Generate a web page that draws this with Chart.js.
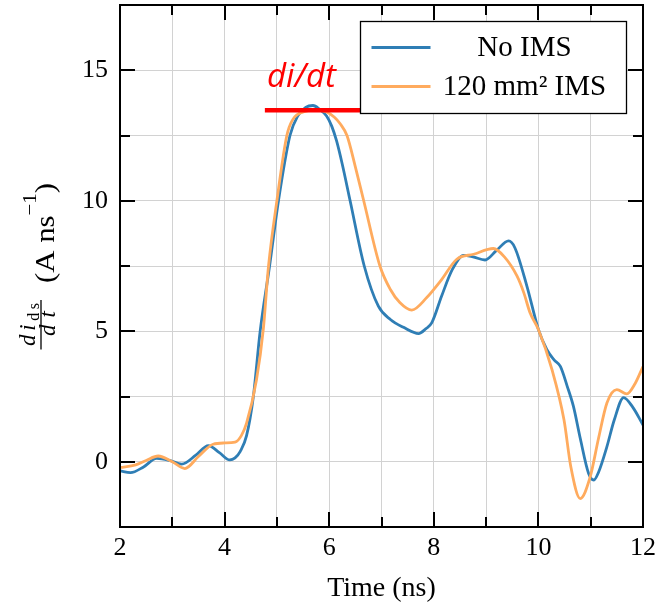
<!DOCTYPE html>
<html lang="es">
<head>
<meta charset="UTF-8">
<title>di/dt con y sin IMS</title>
<script src="https://cdn.jsdelivr.net/npm/chart.js@4.4.1/dist/chart.umd.min.js"></script>
<style>
  html, body { margin: 0; padding: 0; background: #fff; }
  canvas { display: block; }
</style>
</head>
<body>
<canvas id="grafica" width="661" height="607"></canvas>
<script>
// Curva sin IMS (tiempo en ns, di/dt en A/ns)
const tiempoSinIMS = [2.0, 2.2, 2.45, 2.7, 2.95, 3.18, 3.45, 3.69, 3.9, 4.1, 4.2, 4.3, 4.42, 4.55, 4.68, 4.86, 5.03, 5.25, 5.4, 5.55, 5.69, 5.82, 5.95, 6.05, 6.14, 6.25, 6.4, 6.67, 6.94, 7.17, 7.42, 7.71, 7.85, 7.96, 8.15, 8.35, 8.57, 8.75, 8.98, 9.2, 9.43, 9.55, 9.78, 10.0, 10.16, 10.3, 10.42, 10.55, 10.67, 10.8, 10.96, 11.06, 11.15, 11.31, 11.45, 11.63, 11.8, 12.0];
const valoresSinIMS = [-0.35, -0.42, -0.2, 0.13, 0.05, -0.09, 0.25, 0.62, 0.35, 0.07, 0.15, 0.4, 1.0, 2.5, 5.0, 7.5, 10.0, 12.5, 13.25, 13.58, 13.65, 13.5, 13.25, 12.85, 12.3, 11.4, 10.0, 7.5, 5.96, 5.45, 5.15, 4.91, 5.1, 5.32, 6.35, 7.35, 7.91, 7.85, 7.73, 8.1, 8.46, 8.2, 6.73, 5.07, 4.3, 3.9, 3.65, 2.9, 2.12, 0.9, -0.45, -0.7, -0.4, 0.58, 1.6, 2.46, 2.1, 1.41];

// Curva con IMS de 120 mm²
const tiempoConIMS = [2.0, 2.3, 2.5, 2.73, 3.0, 3.24, 3.5, 3.78, 4.0, 4.2, 4.32, 4.42, 4.61, 4.74, 4.84, 5.0, 5.19, 5.3, 5.54, 5.75, 5.95, 6.1, 6.21, 6.34, 6.5, 6.66, 6.97, 7.17, 7.35, 7.58, 7.87, 8.12, 8.44, 8.76, 9.14, 9.35, 9.59, 9.72, 9.84, 10.0, 10.26, 10.49, 10.62, 10.8, 10.99, 11.15, 11.31, 11.5, 11.69, 11.85, 12.0];
const valoresConIMS = [-0.22, -0.12, 0.05, 0.22, 0.0, -0.26, 0.2, 0.67, 0.72, 0.75, 1.0, 1.48, 3.14, 5.07, 7.5, 10.0, 12.5, 13.1, 13.42, 13.47, 13.4, 13.2, 12.95, 12.5, 11.3, 10.0, 7.5, 6.6, 6.1, 5.81, 6.3, 6.9, 7.76, 7.95, 8.17, 7.85, 7.12, 6.48, 5.71, 5.07, 3.53, 1.6, -0.19, -1.41, -0.58, 0.9, 2.25, 2.76, 2.6, 3.0, 3.65];

const etiquetasSeries = ['No IMS', '120 mm² IMS'];
const coloresSeries = ['#2f7eb5', '#ffab5e'];

// Marca roja del pico de di/dt
const didtX = [4.77, 6.59];
const didtY = [13.47, 13.47];
const textoDidt = 'di/dt';

// Etiquetas de los ejes
const ticksX = [2, 4, 6, 8, 10, 12];
const ticksY = [0, 5, 10, 15];

const FUENTE = '"Liberation Serif", "Times New Roman", serif';

function aPuntos(xs, ys) {
  return xs.map((x, i) => ({ x: x, y: ys[i] }));
}

// Sin relleno extra alrededor de las escalas, así el área queda fija
function sinRelleno(escala) {
  escala.paddingTop = 0;
  escala.paddingBottom = 0;
  escala.paddingLeft = 0;
  escala.paddingRight = 0;
}

// Cuadro negro con las marquitas hacia adentro en los cuatro lados
const marcoEjes = {
  id: 'marcoEjes',
  afterDraw(chart) {
    const { ctx, chartArea: a, scales: { x, y } } = chart;
    ctx.save();
    ctx.strokeStyle = '#000';
    ctx.lineWidth = 2;
    ctx.beginPath();
    for (let t = x.min + 1; t < x.max; t += 1) {
      const px = Math.round(x.getPixelForValue(t));
      const largo = ticksX.includes(t) ? 15 : 10;
      ctx.moveTo(px, a.bottom); ctx.lineTo(px, a.bottom - largo);
      ctx.moveTo(px, a.top); ctx.lineTo(px, a.top + largo);
    }
    for (let t = y.min + 2.5; t < y.max; t += 2.5) {
      const py = Math.round(y.getPixelForValue(t));
      const largo = ticksY.includes(t) ? 15 : 10;
      ctx.moveTo(a.left, py); ctx.lineTo(a.left + largo, py);
      ctx.moveTo(a.right, py); ctx.lineTo(a.right - largo, py);
    }
    ctx.stroke();
    ctx.strokeRect(a.left, a.top, a.right - a.left, a.bottom - a.top);
    ctx.restore();
  }
};

// Texto "di/dt" sobre la barra roja
const textoPico = {
  id: 'textoPico',
  afterDatasetsDraw(chart) {
    const { ctx, scales: { x, y } } = chart;
    const cx = (x.getPixelForValue(didtX[0]) + x.getPixelForValue(didtX[1])) / 2 - 11;
    const base = y.getPixelForValue(didtY[0]) - 23;
    ctx.save();
    ctx.fillStyle = '#ff0000';
    ctx.font = 'italic 33px "Open Sans", sans-serif';
    ctx.textAlign = 'center';
    ctx.textBaseline = 'alphabetic';
    ctx.fillText(textoDidt, cx, base);
    ctx.restore();
  }
};

// Leyenda con caja, texto centrado en su columna
const leyenda = {
  id: 'leyenda',
  afterDatasetsDraw(chart) {
    const { ctx, chartArea: a } = chart;
    const der = a.right - 16.5;
    const arriba = a.top + 16.5;
    const ancho = 266, alto = 92;
    const izq = der - ancho;
    ctx.save();
    ctx.fillStyle = '#fff';
    ctx.fillRect(izq, arriba, ancho, alto);
    ctx.strokeStyle = '#000';
    ctx.lineWidth = 1.3;
    ctx.strokeRect(izq, arriba, ancho, alto);
    ctx.font = '29px ' + FUENTE;
    ctx.textAlign = 'center';
    ctx.textBaseline = 'alphabetic';
    etiquetasSeries.forEach((txt, i) => {
      const yLinea = arriba + 26 + i * 39;
      ctx.strokeStyle = coloresSeries[i];
      ctx.lineWidth = 3.2;
      ctx.beginPath();
      ctx.moveTo(izq + 11, yLinea);
      ctx.lineTo(izq + 70, yLinea);
      ctx.stroke();
      ctx.fillStyle = '#000';
      ctx.fillText(txt, izq + 164, yLinea + 8.5);
    });
    ctx.restore();
  }
};

// Dibuja caracteres repartiendo el espacio sobrante entre ellos
function tramoEspaciado(ctx, piezas, u0, largo, base) {
  let total = 0;
  piezas.forEach(p => { ctx.font = p.fuente; p.ancho = ctx.measureText(p.texto).width; total += p.ancho; });
  const hueco = piezas.length > 1 ? Math.max(0, (largo - total) / (piezas.length - 1)) : 0;
  let u = u0;
  piezas.forEach(p => {
    ctx.font = p.fuente;
    ctx.fillText(p.texto, u, base + (p.dy || 0));
    u += p.ancho + hueco;
  });
}

// Título del eje y: fracción d i_ds / dt y las unidades (A ns^-1)
const etiquetaY = {
  id: 'etiquetaY',
  afterDraw(chart) {
    const ctx = chart.ctx;
    const it = 'italic 23px ' + FUENTE;
    const sub = '16px ' + FUENTE;
    ctx.save();
    ctx.translate(0, 350);
    ctx.rotate(-Math.PI / 2);
    ctx.fillStyle = '#000';
    ctx.textBaseline = 'alphabetic';
    ctx.textAlign = 'left';
    // numerador y denominador
    tramoEspaciado(ctx, [
      { texto: 'd', fuente: it }, { texto: 'i', fuente: it },
      { texto: 'd', fuente: sub, dy: 4 }, { texto: 's', fuente: sub, dy: 4 }
    ], 4, 43, 35);
    tramoEspaciado(ctx, [{ texto: 'd', fuente: it }, { texto: 't', fuente: it }], 14, 25, 55);
    ctx.strokeStyle = '#000';
    ctx.lineWidth = 1.3;
    ctx.beginPath();
    ctx.moveTo(0.5, 41);
    ctx.lineTo(50, 41);
    ctx.stroke();
    // unidades, ajustadas al largo disponible
    const piezas = [
      { texto: '(A ns', fuente: '28px ' + FUENTE, dy: 0 },
      { texto: '\u22121', fuente: '19px ' + FUENTE, dy: -18 },
      { texto: ')', fuente: '28px ' + FUENTE, dy: 0 }
    ];
    let total = 0;
    piezas.forEach(p => { ctx.font = p.fuente; p.ancho = ctx.measureText(p.texto).width; total += p.ancho; });
    const k = 100 / total;
    let u = 67;
    piezas.forEach(p => {
      ctx.font = p.fuente;
      ctx.save();
      ctx.translate(u, 53.5 + p.dy);
      ctx.scale(k, 1);
      ctx.fillText(p.texto, 0, 0);
      ctx.restore();
      u += p.ancho * k;
    });
    ctx.restore();
  }
};

const grafica = new Chart(document.getElementById('grafica'), {
  type: 'line',
  data: {
    datasets: [
      {
        label: etiquetasSeries[0],
        data: aPuntos(tiempoSinIMS, valoresSinIMS),
        borderColor: coloresSeries[0],
        borderWidth: 2.8,
        cubicInterpolationMode: 'monotone',
        order: 2
      },
      {
        label: etiquetasSeries[1],
        data: aPuntos(tiempoConIMS, valoresConIMS),
        borderColor: coloresSeries[1],
        borderWidth: 2.8,
        cubicInterpolationMode: 'monotone',
        order: 1
      },
      {
        label: textoDidt,
        data: aPuntos(didtX, didtY),
        borderColor: '#ff0000',
        borderWidth: 4.5,
        tension: 0,
        order: 0
      }
    ]
  },
  options: {
    responsive: false,
    animation: false,
    devicePixelRatio: 1,
    layout: { padding: { top: 5, right: 18, left: 0, bottom: 0 } },
    elements: { point: { radius: 0 } },
    plugins: {
      legend: { display: false },
      tooltip: { enabled: false }
    },
    scales: {
      x: {
        type: 'linear',
        min: 2,
        max: 12,
        afterFit: (escala) => { escala.height = 80; sinRelleno(escala); },
        grid: { color: '#d2d2d2', lineWidth: 1, drawTicks: false },
        border: { display: false },
        ticks: {
          stepSize: 1,
          autoSkip: false,
          maxRotation: 0,
          padding: 6,
          color: '#000',
          font: { family: FUENTE, size: 26 },
          callback: (v) => ticksX.includes(v) ? String(v) : ''
        },
        title: {
          display: true,
          text: 'Time (ns)',
          color: '#000',
          font: { family: FUENTE, size: 28 },
          padding: { top: 0, bottom: 2 }
        }
      },
      y: {
        min: -2.5,
        max: 17.5,
        afterFit: (escala) => { escala.width = 120; sinRelleno(escala); },
        grid: { color: '#d2d2d2', lineWidth: 1, drawTicks: false },
        border: { display: false },
        ticks: {
          stepSize: 2.5,
          autoSkip: false,
          padding: 12,
          color: '#000',
          font: { family: FUENTE, size: 26 },
          callback: (v) => ticksY.includes(v) ? String(v) : ''
        }
      }
    }
  },
  plugins: [textoPico, leyenda, marcoEjes, etiquetaY]
});
</script>
</body>
</html>
